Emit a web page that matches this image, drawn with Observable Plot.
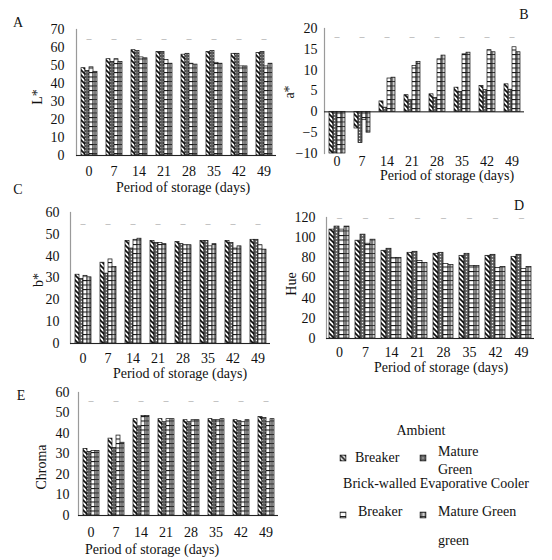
<!DOCTYPE html>
<html><head><meta charset="utf-8">
<script src="https://cdn.jsdelivr.net/npm/d3@7"></script>
<script src="https://cdn.jsdelivr.net/npm/@observablehq/plot@0.6"></script>
<style>
body{margin:0;background:#fff;}
#wrap{position:relative;width:552px;height:560px;overflow:hidden;font-family:"Liberation Serif","Times New Roman",serif;color:#111;font-size:14px;}
.t{position:absolute;white-space:nowrap;line-height:1;}
.c{transform:translate(-50%,-50%);}
.l{transform:translate(0,-50%);}
.r{transform:translate(-50%,-50%) rotate(-90deg);}
.plot{position:absolute;}
.ico{position:absolute;width:7px;height:7px;transform:translate(-50%,-50%);}
</style></head><body>
<svg width="0" height="0" style="position:absolute">
<defs>
<pattern id="pDiag" patternUnits="userSpaceOnUse" width="5" height="5">
<rect width="5" height="5" fill="#fff"/>
<path d="M-1,-1L6,6M-1,4L1,6M4,-1L6,1" stroke="#111" stroke-width="1.7"/>
</pattern>
<pattern id="pDots" patternUnits="userSpaceOnUse" width="3" height="3">
<rect width="3" height="3" fill="#6f6f6f"/>
<rect x="0" y="0" width="1" height="1" fill="#e8e8e8"/>
<rect x="1.5" y="1.5" width="1" height="1" fill="#222"/>
</pattern>
<pattern id="pHoriz" patternUnits="userSpaceOnUse" width="5" height="4.5">
<rect width="5" height="4.5" fill="#fff"/>
<path d="M0,0.5H5" stroke="#111" stroke-width="1.1"/>
</pattern>
<pattern id="pGrid" patternUnits="userSpaceOnUse" width="4" height="4.5">
<rect width="4" height="4.5" fill="#cdcdcd"/>
<path d="M0,0.5H4M2,0V4.5" stroke="#222" stroke-width="0.9"/>
</pattern>
</defs>
</svg>
<div id="wrap"></div>
<script>
const days = [0, 7, 14, 21, 28, 35, 42, 49];
const series = ["Ambient Breaker", "Ambient Mature Green", "BEC Breaker", "BEC Mature Green"];
const patterns = ["url(#pDiag)", "url(#pDots)", "url(#pHoriz)", "url(#pGrid)"];

// A: L*
const lAmbBreaker = [48.5, 53.5, 58.5, 57.5, 56, 57.5, 56.5, 57];
const lAmbMature  = [47, 52, 58, 57.5, 56.5, 58, 56.5, 57.5];
const lBecBreaker = [49, 53.5, 54.5, 53, 51, 51.5, 49.5, 49.5];
const lBecMature  = [46.5, 52, 54, 51, 50.5, 51, 49.5, 51];
const lErr = [65, 65, 65, 65, 65, 65, 65, 65];
// B: a*
const aAmbBreaker = [-10, -4, 2.5, 4, 4.2, 5.8, 6.2, 6.6];
const aAmbMature  = [-10, -7.5, 1, 2.8, 3.3, 4.8, 5.2, 5.3];
const aBecBreaker = [-10, -2, 8, 11, 12.6, 13.8, 14.8, 15.5];
const aBecMature  = [-10, -5, 8.2, 12, 13.5, 14.2, 14.3, 14.3];
const aErr = [18, 18, 18, 18, 18, 18, 18, 18];
// C: b*
const bAmbBreaker = [31.5, 37, 47, 47, 46.5, 47, 47, 47.5];
const bAmbMature  = [29.5, 32, 43.5, 46, 45.5, 47, 46, 47.5];
const bBecBreaker = [31, 38.5, 47.5, 46, 45, 44.5, 43.5, 45];
const bBecMature  = [30.3, 35, 48, 45.5, 45, 45.5, 44.5, 43];
const bErr = [55, 55, 55, 55, 55, 55, 55, 55];
// D: Hue
const hAmbBreaker = [108, 97, 87, 85, 84, 82, 82, 81];
const hAmbMature  = [111, 103, 89, 86, 85, 84, 83, 83];
const hBecBreaker = [108, 94, 80, 77, 74, 72, 70, 69];
const hBecMature  = [111, 98, 80, 75, 73, 72, 71, 71];
const hErr = [120, 120, 120, 120, 120, 120, 120, 120];
// E: Chroma
const cAmbBreaker = [32.5, 37.5, 47, 47, 46.5, 47, 46.5, 48];
const cAmbMature  = [31, 33, 43.5, 45.5, 45.5, 46.5, 46, 47.5];
const cBecBreaker = [31.5, 39, 48.5, 47, 46.5, 46.5, 45.5, 45.5];
const cBecMature  = [31.5, 35.5, 48.5, 47, 46.5, 47, 46.5, 47];
const cErr = [56, 56, 56, 56, 56, 56, 56, 56];

const wrap = document.getElementById("wrap");

function rowsOf(arrs) {
  return days.flatMap((d, i) => series.map((s, j) => ({day: d, series: s, fill: patterns[j], value: arrs[j][i]})));
}

function panel(cfg) {
  const rows = rowsOf(cfg.arrs);
  const errs = days.map((d, i) => ({day: d, value: cfg.err[i]}));
  const p = Plot.plot({
    width: cfg.w, height: cfg.h,
    marginLeft: cfg.ml, marginRight: cfg.mr, marginTop: cfg.mt, marginBottom: cfg.mb,
    style: {fontFamily: '"Liberation Serif","Times New Roman",serif', fontSize: "14px", color: "#111", background: "transparent", overflow: "visible"},
    fx: {domain: days, padding: 0, label: null, axis: "bottom", tickSize: 0, tickPadding: cfg.tp},
    x: {domain: series, paddingInner: 0, paddingOuter: 0.6, axis: null},
    y: {domain: cfg.domain, ticks: cfg.ticks, tickSize: 0, tickPadding: cfg.yp, label: null},
    color: {type: "identity"},
    marks: [
      Plot.frame({anchor: "left", facetAnchor: "left", stroke: "#9a9a9a", strokeWidth: 1.2}),
      Plot.barY(rows, {fx: "day", x: "series", y: "value", fill: "fill", stroke: "#111", strokeWidth: 0.7}),
      Plot.ruleY([0], {stroke: "#222", strokeWidth: 1.1}),
      Plot.text(errs, {fx: "day", y: "value", text: () => "\u2013", fill: "#9a9a9a", fontSize: 10})
    ]
  });
  p.classList.add("plot");
  p.style.left = cfg.left + "px";
  p.style.top = cfg.top + "px";
  wrap.appendChild(p);
}

panel({arrs: [lAmbBreaker, lAmbMature, lBecBreaker, lBecMature], err: lErr, domain: [0, 70], ticks: 7,
  left: 0, top: 0, w: 280, h: 195, ml: 75, mr: 4, mt: 29, mb: 40, tp: 11, yp: 12});
panel({arrs: [aAmbBreaker, aAmbMature, aBecBreaker, aBecMature], err: aErr, domain: [-10, 20], ticks: 6,
  left: 276, top: 0, w: 276, h: 195, ml: 44, mr: 25, mt: 28, mb: 42, tp: 3, yp: 7});
panel({arrs: [bAmbBreaker, bAmbMature, bBecBreaker, bBecMature], err: bErr, domain: [0, 60], ticks: 6,
  left: 0, top: 190, w: 280, h: 190, ml: 70, mr: 10, mt: 22, mb: 37, tp: 10, yp: 11});
panel({arrs: [hAmbBreaker, hAmbMature, hBecBreaker, hBecMature], err: hErr, domain: [0, 120], ticks: 6,
  left: 276, top: 190, w: 276, h: 190, ml: 50, mr: 18, mt: 27, mb: 42, tp: 9, yp: 11});
panel({arrs: [cAmbBreaker, cAmbMature, cBecBreaker, cBecMature], err: cErr, domain: [0, 60], ticks: 6,
  left: 0, top: 380, w: 290, h: 180, ml: 75, mr: 9, mt: 12, mb: 45, tp: 12, yp: 9});

const texts = [
  ["A", 18, 23, "c"], ["B", 524, 15, "c"], ["C", 18, 190, "c"], ["D", 519, 206, "c"], ["E", 21, 396, "c"],
  ["L*", 38, 97, "r"], ["a*", 290, 92, "r"], ["b*", 39, 280, "r"], ["Hue", 292, 284, "r"], ["Chroma", 42, 467, "r"],
  ["Period of storage (days)", 183, 188, "c"], ["Period of storage (days)", 447, 176, "c"],
  ["Period of storage (days)", 180, 374, "c"], ["Period of storage (days)", 441, 368, "c"],
  ["Period of storage (days)", 152, 550, "c"],
  ["Ambient", 421, 431, "c"], ["Breaker", 355, 458, "l"], ["Mature", 438, 452, "l"], ["Green", 438, 470, "l"],
  ["Brick-walled Evaporative Cooler", 436, 484, "c"], ["Breaker", 358, 512, "l"], ["Mature Green", 438, 512, "l"],
  ["green", 438, 541, "l"]
];
for (const [s, x, y, cls] of texts) {
  const d = document.createElement("div");
  d.className = "t " + cls;
  d.textContent = s;
  d.style.left = x + "px";
  d.style.top = y + "px";
  wrap.appendChild(d);
}
const icons = [[343, 458, 0], [423, 458, 1], [343, 515, 2], [423, 515, 3]];
for (const [x, y, j] of icons) {
  const ns = "http://www.w3.org/2000/svg";
  const s = document.createElementNS(ns, "svg");
  s.setAttribute("class", "ico");
  s.setAttribute("width", 7); s.setAttribute("height", 7);
  s.style.left = x + "px"; s.style.top = y + "px";
  const r = document.createElementNS(ns, "rect");
  r.setAttribute("x", 0.5); r.setAttribute("y", 0.5); r.setAttribute("width", 6); r.setAttribute("height", 6);
  r.setAttribute("fill", patterns[j]); r.setAttribute("stroke", "#111"); r.setAttribute("stroke-width", 1);
  s.appendChild(r);
  wrap.appendChild(s);
}
</script>
</body></html>
